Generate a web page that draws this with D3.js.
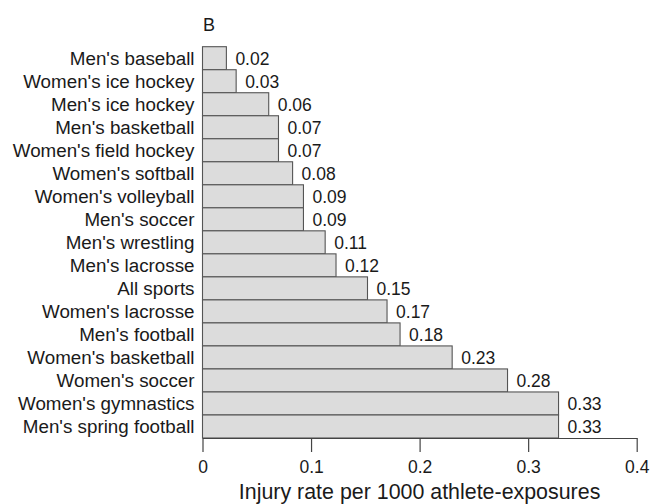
<!DOCTYPE html>
<html lang="en">
<head>
<meta charset="utf-8">
<title>Injury rate by sport</title>
<script src="https://cdn.jsdelivr.net/npm/d3@7"></script>
<style>
  html, body { margin: 0; padding: 0; background: #fff; }
  svg { display: block; font-family: "Liberation Sans", Arial, sans-serif; }
</style>
</head>
<body>
<script>
// data
const sports = [
  "Men's baseball", "Women's ice hockey", "Men's ice hockey", "Men's basketball",
  "Women's field hockey", "Women's softball", "Women's volleyball", "Men's soccer",
  "Men's wrestling", "Men's lacrosse", "All sports", "Women's lacrosse",
  "Men's football", "Women's basketball", "Women's soccer", "Women's gymnastics",
  "Men's spring football"
];
const rates = [
  0.022, 0.031, 0.061, 0.070,
  0.070, 0.083, 0.093, 0.093,
  0.113, 0.123, 0.152, 0.170,
  0.182, 0.230, 0.281, 0.328,
  0.328
];
const xTicks = [0, 0.1, 0.2, 0.3, 0.4];
const panelLabel = "B";
const xTitle = "Injury rate per 1000 athlete-exposures";

const w = 651, h = 504;
const ink = "#1a1a1a";

const svg = d3.select("body").append("svg")
  .attr("width", w)
  .attr("height", h);

const x = d3.scaleLinear([0, 0.4], [202.5, 636.7]);
const y = d3.scaleBand(sports, [46.7, 438]).padding(0);

const rows = sports.map((s, i) => ({ sport: s, rate: rates[i] }));

// bars
svg.append("g")
  .selectAll("rect")
  .data(rows)
  .join("rect")
  .attr("x", x(0))
  .attr("y", d => y(d.sport))
  .attr("width", d => x(d.rate) - x(0))
  .attr("height", y.bandwidth())
  .attr("fill", "#dcdcdc")
  .attr("stroke", "#555")
  .attr("stroke-width", 1.1);

// category labels
svg.append("g")
  .selectAll("text")
  .data(rows)
  .join("text")
  .attr("x", 194.5)
  .attr("y", d => y(d.sport) + y.bandwidth() / 2 + 6.6)
  .attr("text-anchor", "end")
  .attr("font-size", "18.8px")
  .attr("fill", ink)
  .text(d => d.sport);

// value labels
const fmt = d3.format(".2f");
svg.append("g")
  .selectAll("text")
  .data(rows)
  .join("text")
  .attr("x", d => x(d.rate) + 9)
  .attr("y", d => y(d.sport) + y.bandwidth() / 2 + 6.6)
  .attr("font-size", "17.5px")
  .attr("fill", ink)
  .text(d => fmt(d.rate));

// x axis
const axis = svg.append("g")
  .attr("transform", "translate(0,438)")
  .call(d3.axisBottom(x)
    .tickValues(xTicks)
    .tickSize(14)
    .tickSizeOuter(0)
    .tickPadding(9)
    .tickFormat(d => d === 0 ? "0" : d3.format(".1f")(d)));

axis.selectAll("path, line")
  .attr("stroke", "#444")
  .attr("stroke-width", 1.2);
axis.selectAll("text")
  .attr("font-family", "Liberation Sans, Arial, sans-serif")
  .attr("font-size", "17.5px")
  .attr("fill", ink);

// axis title
svg.append("text")
  .attr("x", (x(0) + x(0.4)) / 2)
  .attr("y", 499)
  .attr("text-anchor", "middle")
  .attr("font-size", "21.4px")
  .attr("fill", ink)
  .text(xTitle);

// panel letter
svg.append("text")
  .attr("x", 203)
  .attr("y", 30.5)
  .attr("font-size", "18px")
  .attr("fill", ink)
  .text(panelLabel);
</script>
</body>
</html>
